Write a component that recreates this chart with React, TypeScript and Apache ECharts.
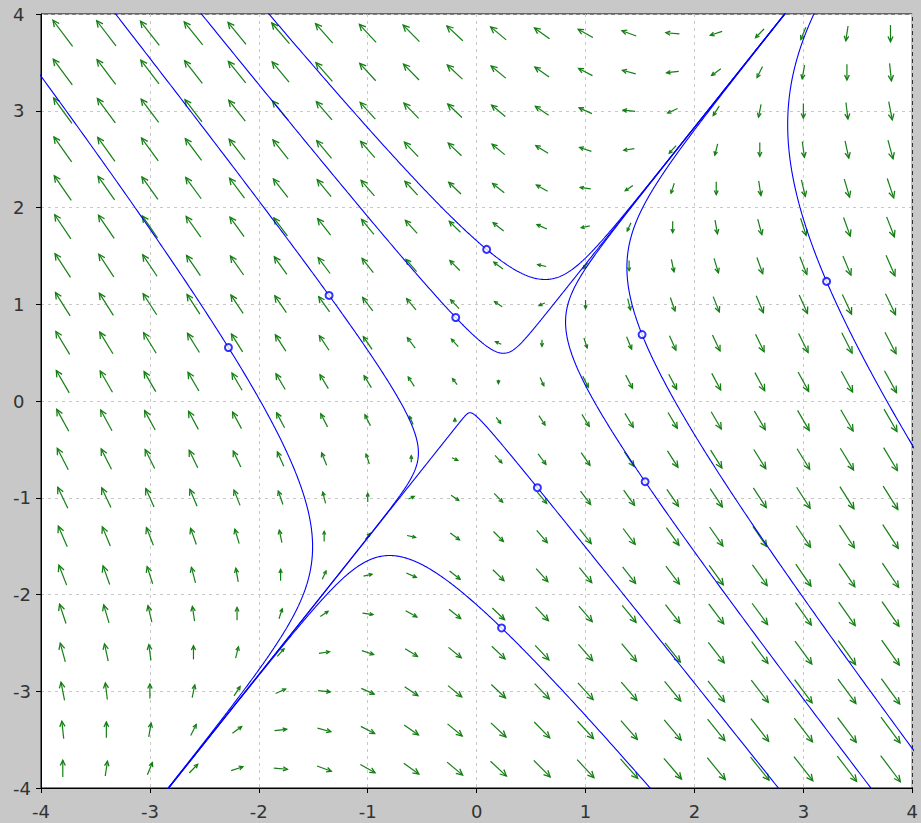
import React, { useEffect, useRef } from "react";
import * as echarts from "echarts";

// Direction field of the linear system  x' = x - y ,  y' = -2x + y
const X_DOT_COEF = [1, -1];
const Y_DOT_COEF = [-2, 1];

// Arrow sample positions (both axes)
const FIELD_POS = [-3.8, -3.4, -3.0, -2.6, -2.2, -1.8, -1.4, -1.0, -0.6, -0.2, 0.2, 0.6, 1.0, 1.4, 1.8, 2.2, 2.6, 3.0, 3.4, 3.8];

// Initial points of the drawn solution curves (small circles)
const START_X = [-2.279, -1.355, -0.192, 0.092, 0.558, 0.229, 1.519, 1.547, 3.213];
const START_Y = [0.553, 1.091, 0.863, 1.567, -0.896, -2.346, 0.687, -0.834, 1.236];

// Axis ticks
const X_TICKS = [-4, -3, -2, -1, 0, 1, 2, 3, 4];
const Y_TICKS = [-4, -3, -2, -1, 0, 1, 2, 3, 4];

const field = (x: number, y: number): [number, number] => [
  X_DOT_COEF[0] * x + X_DOT_COEF[1] * y,
  Y_DOT_COEF[0] * x + Y_DOT_COEF[1] * y,
];

function integrate(x0: number, y0: number, dir: number): number[][] {
  const pts: number[][] = [];
  let x = x0;
  let y = y0;
  const h = 0.004 * dir;
  for (let i = 0; i < 20000; i++) {
    if (Math.abs(x) > 4.3 || Math.abs(y) > 4.3) break;
    const [k1x, k1y] = field(x, y);
    const [k2x, k2y] = field(x + (h / 2) * k1x, y + (h / 2) * k1y);
    const [k3x, k3y] = field(x + (h / 2) * k2x, y + (h / 2) * k2y);
    const [k4x, k4y] = field(x + h * k3x, y + h * k3y);
    x += (h / 6) * (k1x + 2 * k2x + 2 * k3x + k4x);
    y += (h / 6) * (k1y + 2 * k2y + 2 * k3y + k4y);
    pts.push([x, y]);
  }
  return pts;
}

function trajectory(x0: number, y0: number): number[][] {
  const back = integrate(x0, y0, -1).reverse();
  const fwd = integrate(x0, y0, 1);
  return [...back, [x0, y0], ...fwd];
}

export default function App() {
  const ref = useRef<HTMLDivElement>(null);

  useEffect(() => {
    document.body.style.margin = "0";
    if (!ref.current) return;
    const chart = echarts.init(ref.current, undefined, { renderer: "svg" });

    const fieldData: number[][] = [];
    for (const x of FIELD_POS) for (const y of FIELD_POS) fieldData.push([x, y]);

    const K = 0.088;
    const ARROW_COLOR = "#137f13";

    const curveSeries = START_X.map((x0, i) => ({
      type: "line",
      data: trajectory(x0, START_Y[i]),
      showSymbol: false,
      symbol: "none",
      clip: true,
      lineStyle: { color: "#0000ff", width: 1.1 },
      z: 3,
      silent: true,
    }));

    const labelStyle = { color: "#333", fontFamily: "DejaVu Sans", fontSize: 18 };

    const option: any = {
      animation: false,
      backgroundColor: "#c8c8c8",
      grid: {
        left: 41,
        right: 7,
        top: 14,
        bottom: 35,
        show: true,
        backgroundColor: "#ffffff",
        borderColor: "#000000",
        borderWidth: 1,
      },
      xAxis: {
        type: "value",
        min: X_TICKS[0],
        max: X_TICKS[X_TICKS.length - 1],
        interval: 1,
        axisLine: { show: true, onZero: false, lineStyle: { color: "#000", width: 1 } },
        axisTick: { show: true, length: 5, lineStyle: { color: "#000" } },
        axisLabel: { ...labelStyle, margin: 14 },
        splitLine: { show: true, lineStyle: { color: "#c8c8c8", type: [3, 4], width: 1 } },
      },
      yAxis: {
        type: "value",
        min: Y_TICKS[0],
        max: Y_TICKS[Y_TICKS.length - 1],
        interval: 1,
        axisLine: { show: true, onZero: false, lineStyle: { color: "#000", width: 1 } },
        axisTick: { show: true, length: 5, lineStyle: { color: "#000" } },
        axisLabel: { ...labelStyle, margin: 28, align: "left" },
        splitLine: { show: true, lineStyle: { color: "#c8c8c8", type: [3, 4], width: 1 } },
      },
      series: [
        {
          type: "custom",
          data: fieldData,
          z: 2,
          silent: true,
          renderItem: (params: any, api: any) => {
            const x = api.value(0);
            const y = api.value(1);
            const [u, v] = field(x, y);
            const mag = Math.hypot(u, v);
            if (mag < 1e-9) return { type: "group", children: [] };
            const L = K * Math.sqrt(mag);
            const dx = (u / mag) * L;
            const dy = (v / mag) * L;
            const tail = api.coord([x - dx / 2, y - dy / 2]);
            const tip = api.coord([x + dx / 2, y + dy / 2]);
            const px = tip[0] - tail[0];
            const py = tip[1] - tail[1];
            const plen = Math.hypot(px, py) || 1;
            const ux = px / plen;
            const uy = py / plen;
            const hl = Math.max(3.5, Math.min(7, plen * 0.35));
            const ang = 0.45;
            const c = Math.cos(ang);
            const s = Math.sin(ang);
            const h1 = [tip[0] - hl * (ux * c - uy * s), tip[1] - hl * (uy * c + ux * s)];
            const h2 = [tip[0] - hl * (ux * c + uy * s), tip[1] - hl * (uy * c - ux * s)];
            return {
              type: "group",
              children: [
                {
                  type: "line",
                  shape: { x1: tail[0], y1: tail[1], x2: tip[0], y2: tip[1] },
                  style: { stroke: ARROW_COLOR, lineWidth: 1.2 },
                },
                {
                  type: "polyline",
                  shape: { points: [h1, tip, h2] },
                  style: { stroke: ARROW_COLOR, lineWidth: 1.3, fill: null },
                },
              ],
            };
          },
        },
        ...curveSeries,
        {
          type: "scatter",
          data: START_X.map((x, i) => [x, START_Y[i]]),
          symbol: "emptyCircle",
          symbolSize: 7,
          itemStyle: { color: "#0000ff", borderColor: "#0000ff", borderWidth: 1.2 },
          z: 4,
          silent: true,
        },
      ],
    };

    chart.setOption(option);
    return () => chart.dispose();
  }, []);

  return (
    <div
      ref={ref}
      style={{ position: "absolute", left: 0, top: 0, width: 921, height: 823 }}
    />
  );
}
